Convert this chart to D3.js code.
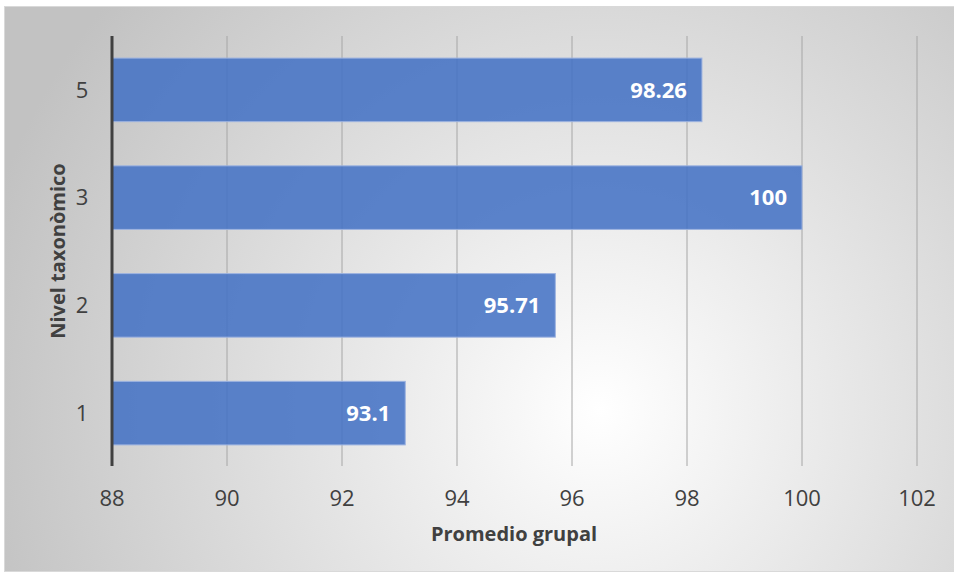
<html lang="es">
<head>
  <script src="https://d3js.org/d3.v7.min.js"></script>
  <style>
    body { margin: 0; background: #fff; }
    text { font-family: "Open Sans", "Noto Sans", sans-serif; }
    .grid line { stroke: #a6a6a6; stroke-width: 1px; }
    .tick-label { fill: #404040; font-size: 22px; }
    .axis-title { fill: #404040; font-size: 20px; font-weight: bold; }
    .bar-label { fill: #fff; font-size: 22px; font-weight: bold; }
  </style>
</head>
<body>
  <svg width="954" height="577" id="chart"></svg>
  <script>
    // data
    const niveles = ["5", "3", "2", "1"];
    const promedios = [98.26, 100, 95.71, 93.1];
    const etiquetas = ["98.26", "100", "95.71", "93.1"];
    const xTicks = [88, 90, 92, 94, 96, 98, 100, 102];

    const svg = d3.select("svg#chart");
    const margin = { left: 112, right: 37, top: 36, bottom: 111 };
    const width = +svg.attr("width");
    const height = +svg.attr("height");

    // background gradient
    const defs = svg.append("defs");
    const grad = defs.append("radialGradient")
      .attr("id", "bg")
      .attr("gradientUnits", "userSpaceOnUse")
      .attr("cx", 600).attr("cy", 410).attr("r", 640);
    grad.append("stop").attr("offset", "0%").attr("stop-color", "#ffffff");
    grad.append("stop").attr("offset", "100%").attr("stop-color", "#c2c2c2");

    svg.append("rect")
      .attr("x", 4.5).attr("y", 6.5)
      .attr("width", 960).attr("height", 565)
      .attr("fill", "url(#bg)")
      .attr("stroke", "#d9d9d9");

    const x = d3.scaleLinear()
      .domain([88, 102])
      .range([margin.left, margin.left + 57.5 * 14]);

    const y = d3.scaleBand()
      .domain(niveles)
      .range([margin.top, height - margin.bottom + 1])
      .paddingInner(0.41)
      .paddingOuter(0.205);

    const plotBottom = height - margin.bottom;

    // gridlines
    svg.append("g").attr("class", "grid")
      .selectAll("line").data(xTicks.slice(1))
      .enter().append("line")
      .attr("x1", d => x(d)).attr("x2", d => x(d))
      .attr("y1", margin.top).attr("y2", plotBottom);

    // bars
    svg.append("g").selectAll("rect")
      .data(niveles)
      .enter().append("rect")
      .attr("x", x(88))
      .attr("y", d => y(d))
      .attr("width", (d, i) => x(promedios[i]) - x(88))
      .attr("height", y.bandwidth())
      .attr("fill", "#4472c4")
      .attr("fill-opacity", 0.87)
      .attr("stroke", "#9db3e0")
      .attr("stroke-width", 1);

    svg.append("g").selectAll("text")
      .data(niveles)
      .enter().append("text")
      .attr("class", "bar-label")
      .attr("x", (d, i) => x(promedios[i]) - 15)
      .attr("y", d => y(d) + y.bandwidth() / 2)
      .attr("dy", "0.35em")
      .attr("text-anchor", "end")
      .text((d, i) => etiquetas[i]);

    // vertical axis line
    svg.append("line")
      .attr("x1", x(88)).attr("x2", x(88))
      .attr("y1", margin.top).attr("y2", plotBottom)
      .attr("stroke", "#404040").attr("stroke-width", 3);

    // tick labels
    svg.append("g").selectAll("text")
      .data(xTicks)
      .enter().append("text")
      .attr("class", "tick-label")
      .attr("x", d => x(d))
      .attr("y", 506)
      .attr("text-anchor", "middle")
      .text(d => d);

    svg.append("g").selectAll("text")
      .data(niveles)
      .enter().append("text")
      .attr("class", "tick-label")
      .attr("x", 82)
      .attr("y", d => y(d) + y.bandwidth() / 2)
      .attr("dy", "0.35em")
      .attr("text-anchor", "middle")
      .text(d => d);

    // titles
    svg.append("text")
      .attr("class", "axis-title")
      .attr("x", 514).attr("y", 541)
      .attr("text-anchor", "middle")
      .text("Promedio grupal");

    svg.append("text")
      .attr("class", "axis-title")
      .attr("transform", "translate(65,251) rotate(-90)")
      .attr("text-anchor", "middle")
      .text("Nivel taxonòmico");
  </script>
</body>
</html>
